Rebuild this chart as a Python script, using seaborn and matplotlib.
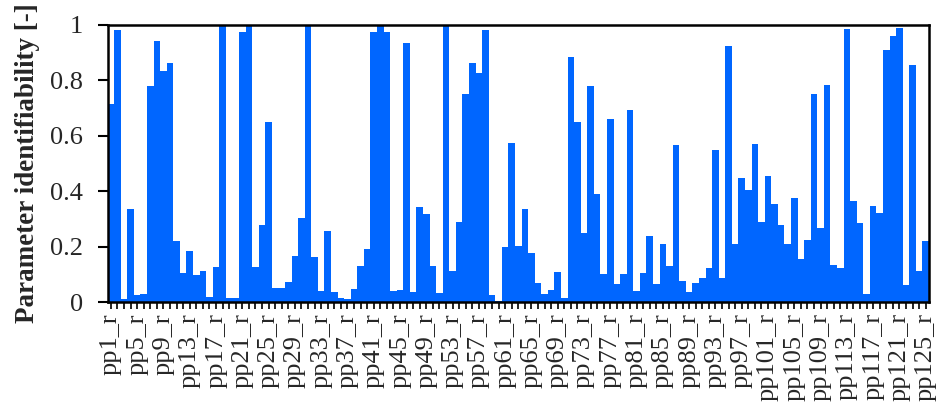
import matplotlib
matplotlib.use("Agg")
import matplotlib.pyplot as plt
import seaborn as sns
import numpy as np

categories = [f"pp{i}_r" for i in range(1, 126)]
values = [
    0.713, 0.982, 0.010, 0.335, 0.025, 0.030, 0.778, 0.942, 0.835, 0.864,
    0.219, 0.104, 0.185, 0.097, 0.111, 0.018, 0.127, 1.000, 0.016, 0.016,
    0.976, 0.998, 0.128, 0.278, 0.650, 0.052, 0.052, 0.072, 0.167, 0.302,
    1.000, 0.163, 0.040, 0.256, 0.036, 0.016, 0.012, 0.046, 0.130, 0.193,
    0.976, 1.000, 0.976, 0.040, 0.042, 0.934, 0.036, 0.344, 0.318, 0.130,
    0.034, 0.998, 0.111, 0.287, 0.751, 0.864, 0.825, 0.982, 0.027, 0.004,
    0.197, 0.574, 0.203, 0.335, 0.176, 0.070, 0.030, 0.042, 0.109, 0.016,
    0.884, 0.650, 0.248, 0.780, 0.390, 0.100, 0.662, 0.066, 0.100, 0.692,
    0.039, 0.103, 0.237, 0.066, 0.209, 0.130, 0.568, 0.075, 0.036, 0.070,
    0.088, 0.124, 0.548, 0.085, 0.924, 0.209, 0.448, 0.406, 0.571, 0.287,
    0.454, 0.353, 0.278, 0.209, 0.374, 0.157, 0.223, 0.751, 0.268, 0.785,
    0.133, 0.123, 0.986, 0.364, 0.284, 0.030, 0.348, 0.321, 0.909, 0.960,
    0.990, 0.060, 0.857, 0.112, 0.219,
]
yticks = [0, 0.2, 0.4, 0.6, 0.8, 1]
ytick_labels = ["0", "0.2", "0.4", "0.6", "0.8", "1"]

sns.set_theme(style="white")
plt.rcParams["font.family"] = ["Liberation Serif", "DejaVu Serif"]

fig = plt.figure(figsize=(9.36, 4.09), dpi=100)
ax = fig.add_axes([0.115, 0.2616, 0.8775, 0.6774])

sns.barplot(x=categories, y=values, color="#0066ff", saturation=1, width=1.0,
            edgecolor="none", linewidth=0, ax=ax)

ax.set_xlim(-0.5, len(categories) - 0.5)
ax.set_ylim(0, 1)
ax.set_yticks(yticks)
ax.set_yticklabels(ytick_labels, fontsize=19)
ax.set_xticks(np.arange(len(categories)))
ax.set_xticklabels([c if i % 4 == 0 else "" for i, c in enumerate(categories)],
                   rotation=90, fontsize=19)
ax.tick_params(axis="x", direction="out", length=5, width=1.2, color="black", pad=3, bottom=True)
ax.tick_params(axis="y", direction="out", length=7, width=1.5, color="black", pad=11, left=True)
ax.set_xlabel("")
ax.set_ylabel("Parameter identifiability [-]", fontsize=19.5, fontweight="bold", labelpad=7)
for s in ax.spines.values():
    s.set_visible(True)
    s.set_color("black")
    s.set_linewidth(1.8)

fig.savefig("out.png", dpi=100)
